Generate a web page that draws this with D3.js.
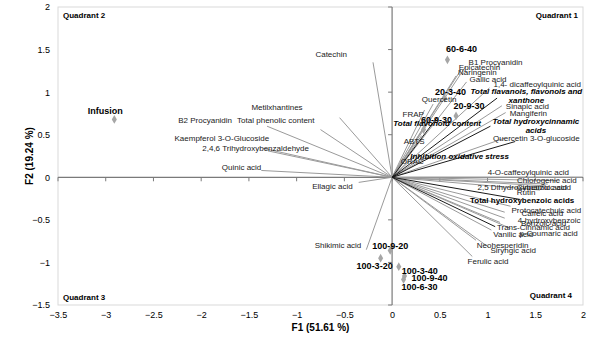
<!DOCTYPE html>
<html><head><meta charset="utf-8">
<script src="https://cdn.jsdelivr.net/npm/d3@7"></script>
<style>body{margin:0;background:#fff}svg{display:block;font-family:"Liberation Sans",Arial,sans-serif}</style>
</head><body><svg id="c" width="604" height="340"></svg>
<script>
// ---- data ----
const xTicks = [-3.5,-3,-2.5,-2,-1.5,-1,-0.5,0,0.5,1,1.5,2];
const yTicks = [-1.5,-1,-0.5,0,0.5,1,1.5,2];
const xTitle = "F1 (51.61 %)";
const yTitle = "F2 (19.24 %)";
const quadrants = ["Quadrant 1","Quadrant 2","Quadrant 3","Quadrant 4"];

const obsNames = ["Infusion","60-6-40","20-3-40","20-9-30","60-9-30","100-9-20","100-3-20","100-3-40","100-9-40","100-6-30"];
const obsF1 = [-2.91,0.58,0.55,0.67,0.33,-0.02,-0.12,0.07,0.13,0.12];
const obsF2 = [0.68,1.38,0.93,0.72,0.56,-0.86,-0.95,-1.05,-1.16,-1.20];

const varNames = ["Catechin","Metilxhantines","Total phenolic content","B2 Procyanidin","Kaempferol 3-O-Glucoside",
 "2,4,6 Trihydroxybenzaldehyde","Quinic acid","Ellagic acid","Shikimic acid",
 "B1 Procyanidin","Epicatechin","Naringenin","Gallic acid","1,4- dicaffeoylquinic acid",
 "Total flavanols, flavonols and\nxanthone","Sinapic acid","Mangiferin","Total hydroxycinnamic\nacids",
 "Quercetin 3-O-glucoside","Inhibition oxidative stress","Quercetin","FRAP","Total flavonoid content","ABTS","ORAC",
 "4-O-caffeoylquinic acid","Chlorogenic acid","2,5 Dihydroxybenzoic acid","Cinnamic acid","Rutin",
 "Total hydroxybenzoic acids","Protocatechuic acid","Caffeic acid","4-hydroxybenzoic","Benzoic acid",
 "Trans-Cinnamic acid","Vanilic acid","p-Coumaric acid","Neohesperidin","Siryngic acid","Ferulic acid"];
const varF1 = [-0.20,-0.55,-0.75,-1.31,-1.35,-1.30,-1.37,-0.35,-0.27,
 0.77,0.72,0.67,0.78,1.02,1.10,1.15,1.19,1.03,1.18,1.29,0.43,0.34,0.47,0.31,0.24,
 1.99,1.76,1.60,1.63,1.55,1.34,1.24,1.18,1.18,1.13,1.08,1.04,1.24,0.88,1.01,0.84];
const varF2 = [1.35,0.70,0.56,0.60,0.34,0.31,0.08,-0.06,-0.85,
 1.30,1.26,1.19,1.12,1.05,0.93,0.84,0.76,0.60,0.46,0.42,0.86,0.79,0.70,0.49,0.27,
 0.00,-0.04,-0.10,-0.08,-0.15,-0.26,-0.34,-0.41,-0.48,-0.53,-0.58,-0.62,-0.60,-0.74,-0.82,-0.93];
// summary (total / activity) variables
const varIsSummary = ["Total flavanols, flavonols and\nxanthone","Total hydroxycinnamic\nacids",
 "Inhibition oxidative stress","Total flavonoid content","Total hydroxybenzoic acids","Trans-Cinnamic acid"];

// ---- layout (label offsets in px from the mark: dx, dy, anchor, style) ----
const varLabel = {
 "Catechin":[-26,-5.7,"end"],"Metilxhantines":[-37,-7.3,"end"],"Total phenolic content":[-6,-6.3,"end"],
 "B2 Procyanidin":[-35,-3,"end"],"Kaempferol 3-O-Glucoside":[6,-7,"end"],"2,4,6 Trihydroxybenzaldehyde":[41,-0.3,"end"],
 "Quinic acid":[0,0,"end"],"Ellagic acid":[-6,6.7,"end"],"Shikimic acid":[-5,-1.3,"end"],
 "B1 Procyanidin":[3,-1.7],"Epicatechin":[-2,0.3],"Naringenin":[2,-0.7],"Gallic acid":[3,0],
 "1,4- dicaffeoylquinic acid":[4,-1],"Total flavanols, flavonols and\nxanthone":[29.3,-4.6,"middle","bi"],
 "Sinapic acid":[4,3],"Mangiferin":[4,3.3],"Total hydroxycinnamic\nacids":[45.5,-2.3,"middle","bi"],
 "Quercetin 3-O-glucoside":[-11.7,3.3],"Inhibition oxidative stress":[-105,17,"start","bi"],
 "Quercetin":[-11.3,-2],"FRAP":[-22,7.3],"Total flavonoid content":[-43.7,8.3,"start","bi"],
 "ABTS":[-18,8],"ORAC":[-14.3,9.7],"4-O-caffeoylquinic acid":[-94.3,-2.3],"Chlorogenic acid":[-43,2.7],
 "2,5 Dihydroxybenzoic acid":[-67.3,3.7],"Cinnamic acid":[-31,6],"Rutin":[-23.3,5],
 "Total hydroxybenzoic acids":[-50,4,"start","b"],"Protocatechuic acid":[1,7],"Caffeic acid":[16.7,4.3],
 "4-hydroxybenzoic":[13,5],"Benzoic acid":[21,4],"Trans-Cinnamic acid":[1.7,3],"Vanilic acid":[2,7],
 "p-Coumaric acid":[9,7.7],"Neohesperidin":[0.7,8],"Siryngic acid":[2,6],"Ferulic acid":[-4.7,8]
};
const obsLabel = {"Infusion":[-9,-5.8],"60-6-40":[14,-7.5],"20-3-40":[6,-3.5],"20-9-30":[13,-6.8],
 "60-9-30":[13,-6.5],"100-9-20":[0,-1.2],"100-3-20":[-6,11],"100-3-40":[21,7],"100-9-40":[25,5],"100-6-30":[16,10.8]};

const W=604,H=340,m={l:58,r:21,t:7,b:35};
const svg=d3.select("#c");
const x=d3.scaleLinear().domain([-3.5,2]).range([m.l,W-m.r]);
const y=d3.scaleLinear().domain([-1.5,2]).range([H-m.b,m.t]);

// frame
svg.append("rect").attr("x",m.l).attr("y",m.t).attr("width",W-m.l-m.r).attr("height",H-m.t-m.b)
 .attr("fill","none").attr("stroke","#d9d9d9").attr("stroke-width",1);

// tick labels (outside, low)
svg.append("g").attr("transform",`translate(0,${H-m.b})`)
 .call(d3.axisBottom(x).tickValues(xTicks).tickSize(0).tickPadding(7).tickFormat(d3.format("")))
 .call(g=>{g.select(".domain").remove();g.selectAll("text").attr("font-size",9).attr("fill","#000").attr("font-family","Liberation Sans, Arial");});
svg.append("g").attr("transform",`translate(${m.l},0)`)
 .call(d3.axisLeft(y).tickValues(yTicks).tickSize(0).tickPadding(8).tickFormat(d3.format("")))
 .call(g=>{g.select(".domain").remove();g.selectAll("text").attr("font-size",9).attr("fill","#000").attr("font-family","Liberation Sans, Arial");});

// center axes with ticks
svg.append("line").attr("x1",x(-3.5)).attr("x2",x(2)).attr("y1",y(0)).attr("y2",y(0)).attr("stroke","#7a7a7a").attr("stroke-width",1.2);
svg.append("line").attr("x1",x(0)).attr("x2",x(0)).attr("y1",y(-1.5)).attr("y2",y(2)).attr("stroke","#7a7a7a").attr("stroke-width",1.2);
svg.append("g").selectAll("line").data(yTicks).join("line")
 .attr("x1",x(0)-4).attr("x2",x(0)).attr("y1",d=>y(d)).attr("y2",d=>y(d)).attr("stroke","#7a7a7a");
svg.append("g").selectAll("line").data(xTicks).join("line")
 .attr("x1",d=>x(d)).attr("x2",d=>x(d)).attr("y1",y(0)).attr("y2",y(0)+4).attr("stroke","#7a7a7a");

// axis titles
svg.append("text").attr("x",(m.l+W-m.r)/2).attr("y",331).attr("text-anchor","middle")
 .attr("font-size",10).attr("font-weight","bold").text(xTitle);
svg.append("text").attr("transform",`translate(33,${(m.t+H-m.b)/2}) rotate(-90)`).attr("text-anchor","middle")
 .attr("font-size",10).attr("font-weight","bold").text(yTitle);

// quadrant labels
const qpos=[[W-m.r-5,m.t+11,"end"],[m.l+5,m.t+11,"start"],[m.l+5,H-m.b-5,"start"],[W-m.r-11,H-m.b-7,"end"]];
quadrants.forEach((q,i)=>svg.append("text").attr("x",qpos[i][0]).attr("y",qpos[i][1]).attr("text-anchor",qpos[i][2])
 .attr("font-size",8).attr("font-weight","bold").text(q));

// variable vectors
const vars=varNames.map((n,i)=>({n,f1:varF1[i],f2:varF2[i],s:varIsSummary.includes(n)}));
const gv=svg.append("g");
gv.selectAll("line").data(vars.filter(d=>!d.s)).join("line")
 .attr("x1",x(0)).attr("y1",y(0)).attr("x2",d=>x(d.f1)).attr("y2",d=>y(d.f2))
 .attr("stroke","#9a9a9a").attr("stroke-width",1);
gv.append("g").selectAll("line").data(vars.filter(d=>d.s)).join("line")
 .attr("x1",x(0)).attr("y1",y(0)).attr("x2",d=>x(d.f1)).attr("y2",d=>y(d.f2))
 .attr("stroke","#1a1a1a").attr("stroke-width",1);

// observations
const obs=obsNames.map((n,i)=>({n,f1:obsF1[i],f2:obsF2[i]}));
svg.append("g").selectAll("path").data(obs).join("path")
 .attr("d",d3.symbol(d3.symbolDiamond,22)())
 .attr("transform",d=>`translate(${x(d.f1)},${y(d.f2)})`).attr("fill","#a6a6a6");

// variable labels
vars.forEach(d=>{
 const L=varLabel[d.n]||[3,3];
 const anchor=L[2]||"start", st=L[3]||"";
 const t=svg.append("text").attr("x",x(d.f1)+L[0]).attr("y",y(d.f2)+L[1]).attr("text-anchor",anchor)
  .attr("font-size",8).attr("fill","#1a1a1a");
 if(st.includes("b")) t.attr("font-weight","bold").attr("fill","#000");
 if(st.includes("i")) t.attr("font-style","italic");
 d.n.split("\n").forEach((line,k)=>t.append("tspan").attr("x",x(d.f1)+L[0]).attr("dy",k?9.5:0).text(line));
});

// observation labels
obs.forEach(d=>{
 const L=obsLabel[d.n];
 svg.append("text").attr("x",x(d.f1)+L[0]).attr("y",y(d.f2)+L[1]).attr("text-anchor","middle")
  .attr("font-size",9).attr("font-weight","bold").attr("fill","#000").text(d.n);
});
</script></body></html>
